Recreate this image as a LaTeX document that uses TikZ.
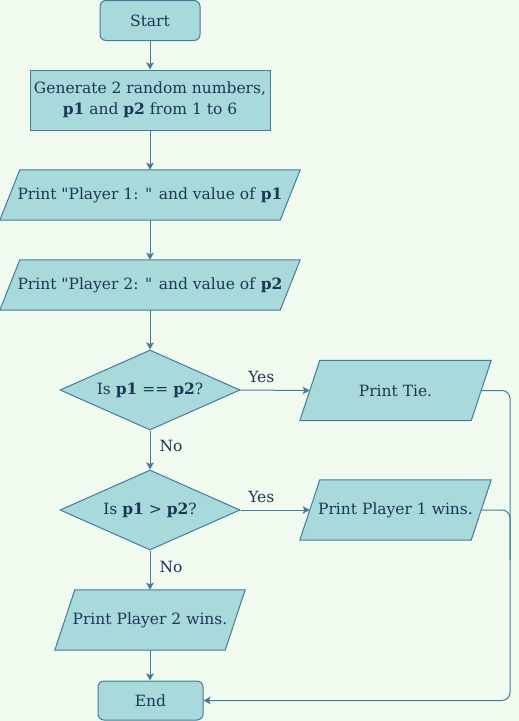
\documentclass[tikz,border=0pt]{standalone}
\usepackage{fontspec}
\setmainfont{DejaVu Serif}
\usetikzlibrary{shapes.geometric,arrows.meta}
\definecolor{bgc}{HTML}{F1FAEE}
\definecolor{fillc}{HTML}{A8DADC}
\definecolor{linec}{HTML}{457B9D}
\definecolor{textc}{HTML}{1D3557}
\pgfdeclarelayer{bgfill}
\pgfdeclarelayer{shapes}
\pgfsetlayers{bgfill,shapes,main}
\tikzset{
  base/.style={draw=linec, fill=fillc, line width=1pt, inner sep=0pt, align=center, text=textc},
  term/.style={base, rectangle, rounded corners=6pt},
  procbox/.style={base, rectangle},
  iotext/.style={rectangle, inner sep=0pt, align=center, text=textc},
  ioshape/.style={draw=linec, fill=fillc, line width=1pt},
  decbox/.style={base, diamond},
  conn/.style={draw=linec, line width=1pt},
  arr/.style={conn, -{Stealth[length=7pt,width=7.5pt,inset=1.5pt]}},
  lbl/.style={text=textc, inner sep=2pt},
}
\newcommand{\parashape}[1]{%
  \begin{pgfonlayer}{shapes}
  \draw[ioshape] ([xshift=-10pt]#1.south west) -- ([xshift=10pt]#1.north west) -- ([xshift=10pt]#1.north east) -- ([xshift=-10pt]#1.south east) -- cycle;
  \end{pgfonlayer}}
\begin{document}
\begin{tikzpicture}[x=1pt,y=-1pt, font=\fontsize{15.5}{21}\selectfont]
\begin{pgfonlayer}{bgfill}
\path[fill=bgc] (0,0) rectangle (519,721);
\end{pgfonlayer}
\useasboundingbox (0,0) rectangle (519,721);

\node[term, minimum width=100pt, minimum height=40pt] (start) at (150,20.5) {Start};
\node[procbox, minimum width=240pt, minimum height=60pt] (gen) at (150,100) {Generate 2 random numbers,\\\textbf{p1} and \textbf{p2} from 1 to 6};
\node[iotext, minimum width=280pt, minimum height=50pt] (pa) at (150,195) {Print \textquotedbl Player 1: \textquotedbl{} and value of \textbf{p1}};
\parashape{pa}
\node[iotext, minimum width=280pt, minimum height=50pt] (pb) at (150,285) {Print \textquotedbl Player 2: \textquotedbl{} and value of \textbf{p2}};
\parashape{pb}
\node[decbox, minimum width=180pt, minimum height=80pt] (d1) at (150,390) {\makebox[0pt]{Is \textbf{p1} == \textbf{p2}?}};
\node[iotext, minimum width=171pt, minimum height=60pt] (tie) at (395.5,390.5) {Print Tie.};
\parashape{tie}
\node[decbox, minimum width=180pt, minimum height=80pt] (d2) at (150,510) {\makebox[0pt]{Is \textbf{p1} > \textbf{p2}?}};
\node[iotext, minimum width=171pt, minimum height=60pt] (w1) at (395.5,510) {Print Player 1 wins.};
\parashape{w1}
\node[iotext, minimum width=170pt, minimum height=60pt] (w2) at (150,620) {Print Player 2 wins.};
\parashape{w2}
\node[term, minimum width=105pt, minimum height=39pt] (end) at (150.5,700.5) {End};

\coordinate (c1) at (510,390.5);
\coordinate (c2) at (510,700.5);
\coordinate (c3) at (510,510);
\coordinate (c4) at (510,560);

\draw[arr] (start.south) -- (gen.north);
\draw[arr] (gen.south) -- (pa.north);
\draw[arr] (pa.south) -- (pb.north);
\draw[arr] (pb.south) -- (d1.north);
\draw[arr] (d1.east) -- node[lbl, pos=0.3, above, yshift=5pt] {Yes} (tie.west);
\draw[arr] (d1.south) -- node[lbl, pos=0.4, right, xshift=7pt] {No} (d2.north);
\draw[arr] (d2.east) -- node[lbl, pos=0.3, above, yshift=5pt] {Yes} (w1.west);
\draw[arr] (d2.south) -- node[lbl, pos=0.42, right, xshift=7pt] {No} (w2.north);
\draw[arr] (w2.south) -- (w2.south |- end.north);
\draw[arr, rounded corners=8pt] (tie.east) -- (c1) -- (c2) -- (end.east);
\draw[conn, rounded corners=8pt] (w1.east) -- (c3) -- (c4);
\end{tikzpicture}
\end{document}
